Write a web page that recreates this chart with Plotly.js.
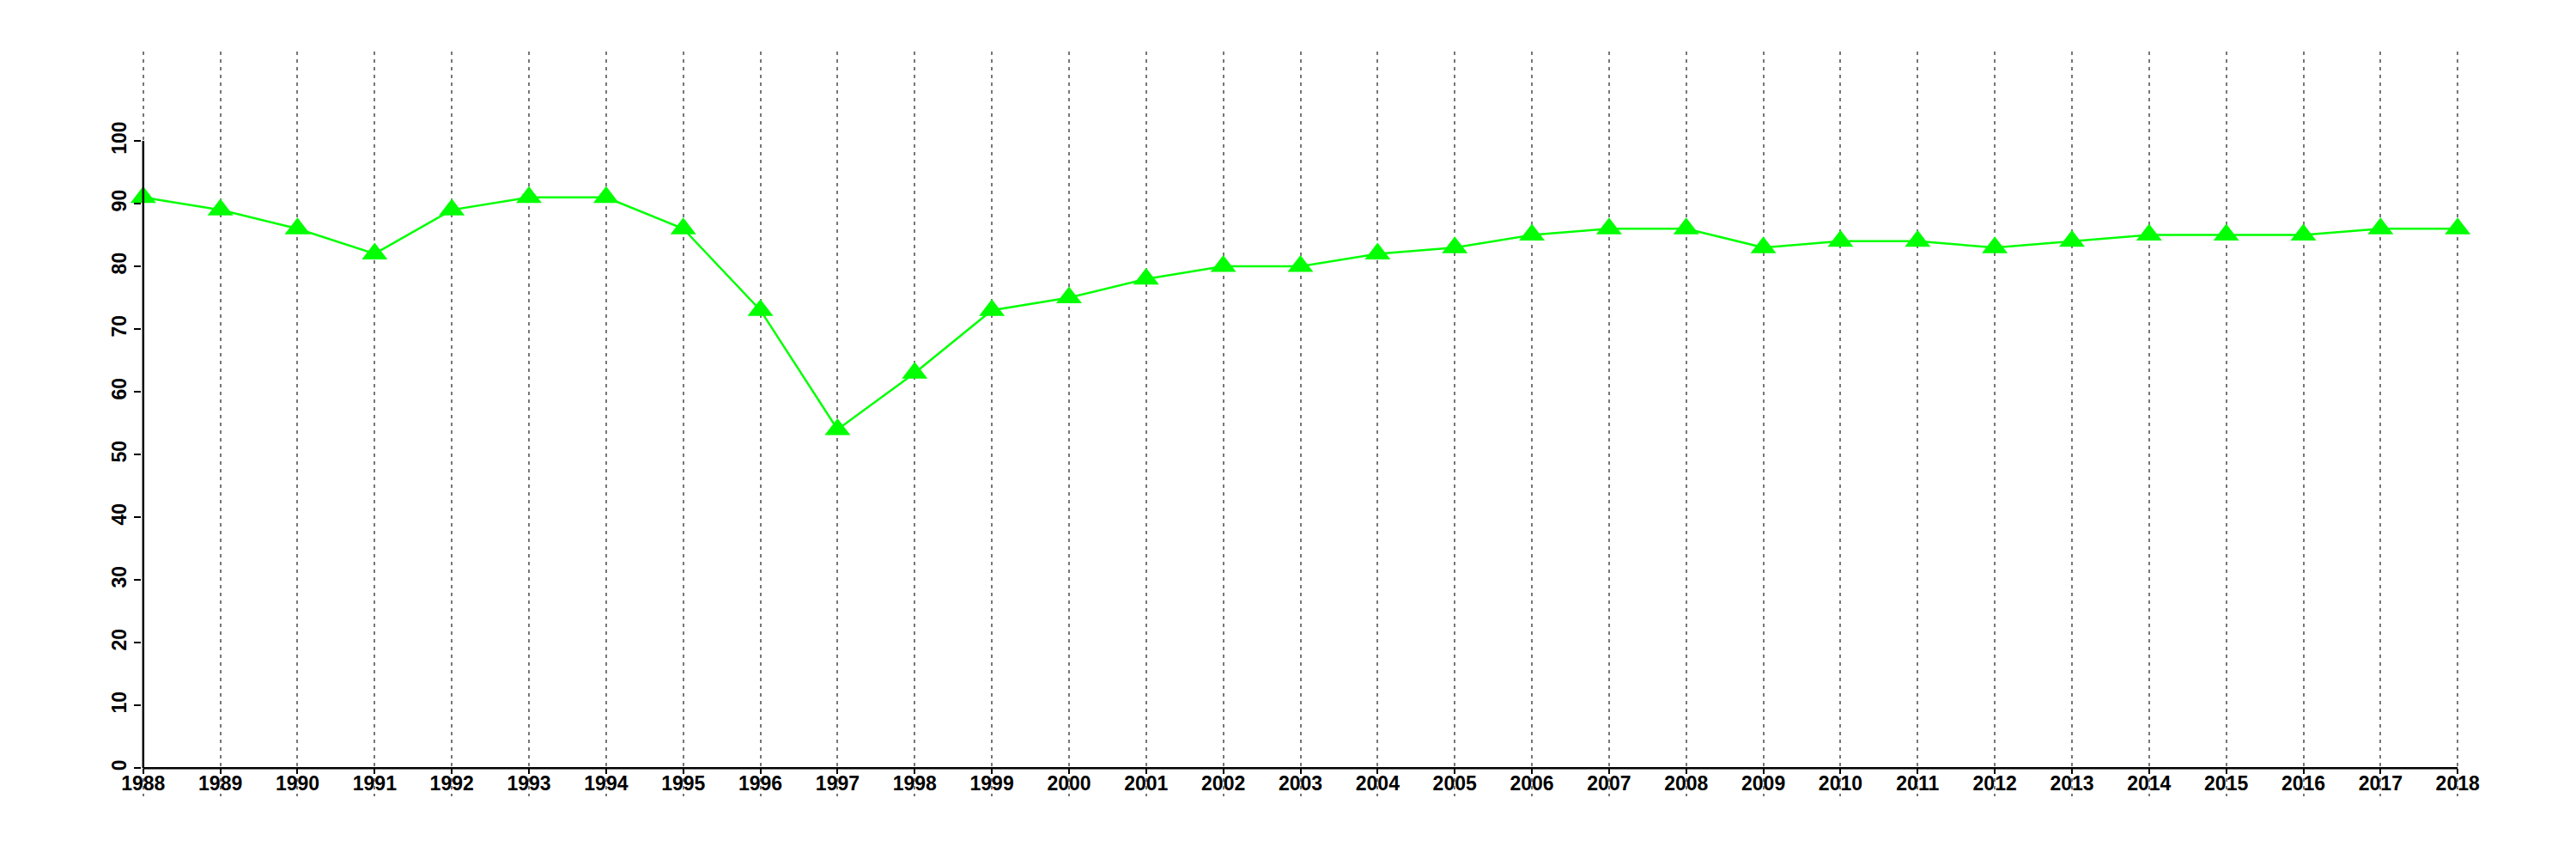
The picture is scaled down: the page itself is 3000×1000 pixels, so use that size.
<!DOCTYPE html>
<html>
<head>
<meta charset="utf-8">
<script src="https://cdn.plot.ly/plotly-3.0.1.min.js"></script>
<style>html,body{margin:0;padding:0;background:#fff;}#chart{width:3000px;height:1000px;}</style>
</head>
<body>
<div id="chart"></div>
<script>
const years = [1988,1989,1990,1991,1992,1993,1994,1995,1996,1997,1998,1999,2000,2001,2002,2003,2004,2005,2006,2007,2008,2009,2010,2011,2012,2013,2014,2015,2016,2017,2018];
const values = [91,89,86,82,89,91,91,86,73,54,63,73,75,78,80,80,82,83,85,86,86,83,84,84,83,84,85,85,85,86,86];
const yTickVals = [0,10,20,30,40,50,60,70,80,90,100];

const W = 3000, H = 1000;
const plotTop = 60, plotBottom = 927;
const xStartPx = 166.7, xEndPx = 2862;
const pad = 0.02;
const pxPerYear = (xEndPx - xStartPx) / (years[years.length-1] - years[0]);
const leftM = xStartPx - pad * pxPerYear;
const rightM = W - (xEndPx + pad * pxPerYear);
const zeroPx = 894.3, hundredPx = 164;
const pxPerUnit = (zeroPx - hundredPx) / 100;
const yMax = (zeroPx - plotTop) / pxPerUnit;
const yMin = -(plotBottom - zeroPx) / pxPerUnit;
const xAxisPos = (plotBottom - zeroPx) / (plotBottom - plotTop);

const tickFont = {family: '"Liberation Sans", Arial, Helvetica, sans-serif', size: 23, color: '#000', weight: 'bold'};

const trace = {
  x: years, y: values, type: 'scatter', mode: 'lines+markers',
  line: {color: '#00ff00', width: 2.5},
  marker: {symbol: 'triangle-up', size: 26, color: '#00ff00'},
  cliponaxis: false, hoverinfo: 'skip'
};

const layout = {
  width: W, height: H,
  paper_bgcolor: '#fff', plot_bgcolor: '#fff',
  showlegend: false,
  margin: {l: leftM, r: rightM, t: plotTop, b: H - plotBottom, pad: 0},
  xaxis: {
    range: [years[0] - pad, years[years.length-1] + pad],
    tickmode: 'array', tickvals: years, ticktext: years.map(String),
    anchor: 'free', position: xAxisPos,
    showgrid: true, gridcolor: '#777777', gridwidth: 2, griddash: '4px,5px',
    zeroline: false, showline: false,
    ticks: 'outside', ticklen: 6, tickwidth: 2, tickcolor: '#000',
    tickfont: tickFont, tickangle: 0, ticklabelstandoff: -9
  },
  yaxis: {
    range: [yMin, yMax],
    tickmode: 'array', tickvals: yTickVals, ticktext: yTickVals.map(String),
    showgrid: false, zeroline: false, showline: false,
    ticks: 'outside', ticklen: 8, tickwidth: 2, tickcolor: '#000',
    tickfont: tickFont, tickangle: -90
  },
  shapes: [
    {type: 'line', xref: 'x', yref: 'y', x0: years[0], x1: years[years.length-1], y0: yTickVals[0], y1: yTickVals[0], line: {color: '#000', width: 2.5}, layer: 'above'},
    {type: 'line', xref: 'x', yref: 'y', x0: years[0], x1: years[0], y0: yTickVals[0], y1: yTickVals[yTickVals.length-1], line: {color: '#000', width: 2.5}, layer: 'above'}
  ]
};

Plotly.newPlot('chart', [trace], layout, {staticPlot: true, displayModeBar: false});
</script>
</body>
</html>
